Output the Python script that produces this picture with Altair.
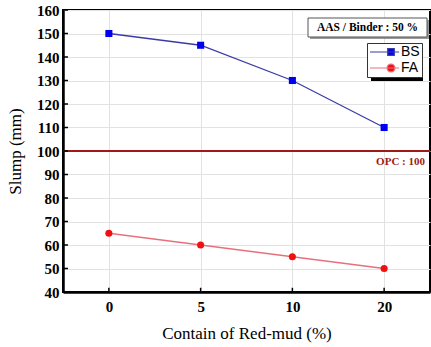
import altair as alt
import pandas as pd

# ---- data ----
contents = ["0", "5", "10", "20"]
bs_slump = [150, 145, 130, 110]
fa_slump = [65, 60, 55, 50]
series_names = ["BS", "FA"]
opc_value = [100]
opc_label = ["OPC : 100"]
note_text = ["AAS / Binder : 50 %"]
y_ticks = [40, 50, 60, 70, 80, 90, 100, 110, 120, 130, 140, 150, 160]

df = pd.DataFrame({
    "content": contents * 2,
    "slump": bs_slump + fa_slump,
    "series": ["BS"] * len(contents) + ["FA"] * len(contents),
})
opc_df = pd.DataFrame({"opc": opc_value, "label": opc_label})
note_df = pd.DataFrame({"t": note_text})
xt_df = pd.DataFrame({"content": contents, "lo": [40] * len(contents), "hi": [41.8] * len(contents)})
yt_df = pd.DataFrame({"tick": y_ticks})

W, H = 367, 282
SERIF = "Liberation Serif"
SANS = "Liberation Sans"

line_colors = ["#3b3ba8", "#e8707c"]
marker_colors = ["#0000f0", "#f01010"]
marker_shapes = ["square", "circle"]
path_bs = "M-3.5,0H1.35M-0.55,-0.55H0.55V0.55H-0.55Z"
path_fa = "M-3.5,0H1.35M0.65,0A0.65,0.65,0,1,1,-0.65,0A0.65,0.65,0,1,1,0.65,0Z"

x_scale = alt.Scale(type="point", padding=0.5, domain=contents)
y_scale = alt.Scale(domain=[40, 160], nice=False, zero=False)
x_axis = alt.Axis(title="Contain of Red-mud (%)", labelAngle=0, labelPadding=7,
                  titlePadding=11, grid=True)
y_axis = alt.Axis(values=y_ticks, title="Slump (mm)", labelPadding=4, titlePadding=12,
                  grid=True, labelOverlap=False)

x_enc = alt.X("content:N", sort=contents, scale=x_scale, axis=x_axis)
y_enc = alt.Y("slump:Q", scale=y_scale, axis=y_axis)

base = alt.Chart(df)

series_layers = []
for name, lc, mc, shp in zip(series_names, line_colors, marker_colors, marker_shapes):
    sub = base.transform_filter(alt.datum.series == name)
    series_layers.append(sub.mark_line(strokeWidth=1.3, color=lc).encode(x=x_enc, y=y_enc))
    series_layers.append(
        sub.mark_point(filled=True, opacity=1, size=50, color=mc, shape=shp).encode(x=x_enc, y=y_enc)
    )

legend_layer = base.mark_point(filled=True, opacity=0).encode(
    x=x_enc, y=y_enc,
    fill=alt.Fill("series:N", scale=alt.Scale(domain=series_names, range=marker_colors),
                  legend=alt.Legend(title=None)),
    stroke=alt.Stroke("series:N", scale=alt.Scale(domain=series_names, range=line_colors),
                      legend=alt.Legend(title=None)),
    shape=alt.Shape("series:N", scale=alt.Scale(domain=series_names, range=[path_bs, path_fa]),
                    legend=alt.Legend(title=None)),
)

opc_rule = alt.Chart(opc_df).mark_rule(color="#a01818", strokeWidth=2).encode(
    y=alt.Y("opc:Q", scale=y_scale, axis=y_axis), x=alt.value(0), x2=alt.value(W)
)
opc_text = alt.Chart(opc_df).mark_text(
    align="right", baseline="top", dy=5, font=SERIF, fontWeight="bold", fontSize=11, color="#a01818"
).encode(y=alt.Y("opc:Q", scale=y_scale, axis=y_axis), x=alt.value(W - 5), text="label:N")

# inward tick marks
x_ticks = alt.Chart(xt_df).mark_rule(color="black", strokeWidth=1.5).encode(
    x=alt.X("content:N", sort=contents, scale=x_scale, axis=x_axis),
    y=alt.Y("lo:Q", scale=y_scale, axis=y_axis), y2="hi:Q"
)
y_tick_marks = alt.Chart(yt_df).mark_rule(color="black", strokeWidth=1.5).encode(
    y=alt.Y("tick:Q", scale=y_scale, axis=y_axis), x=alt.value(0), x2=alt.value(5)
)

# note box
note_shadow = alt.Chart(note_df).mark_rect(color="#9a9a9a").encode(
    x=alt.value(247), x2=alt.value(366), y=alt.value(10), y2=alt.value(29)
)
note_box = alt.Chart(note_df).mark_rect(fill="white", stroke="#555555", strokeWidth=1).encode(
    x=alt.value(245), x2=alt.value(364), y=alt.value(8), y2=alt.value(27)
)
note_txt = alt.Chart(note_df).mark_text(
    font=SERIF, fontWeight="bold", fontSize=11.5, color="black", align="center", baseline="middle"
).encode(x=alt.value(304.5), y=alt.value(17.5), text="t:N")

# legend shadow
legend_shadow = alt.Chart(note_df).mark_rect(color="black").encode(
    x=alt.value(308), x2=alt.value(360), y=alt.value(37), y2=alt.value(71)
)

chart = alt.layer(
    opc_rule, *series_layers, legend_layer, x_ticks, y_tick_marks,
    opc_text, note_shadow, note_box, note_txt, legend_shadow,
).properties(
    width=W, height=H,
    autosize=alt.AutoSizeParams(type="none"),
    padding={"left": 63, "top": 10, "right": 1, "bottom": 55},
).configure_view(
    stroke="black", strokeWidth=2
).configure_axis(
    labelFont=SERIF, labelFontWeight="bold", labelFontSize=15, labelColor="black",
    titleFont=SERIF, titleFontWeight="normal", titleFontSize=17, titleColor="black",
    gridColor="#e2e2e2", gridWidth=1, ticks=False,
    domainColor="black", domainWidth=2.5,
).configure_axisY(
    labelOverlap=False
).configure_legend(
    orient="none", legendX=304, legendY=33,
    padding=2, strokeColor="#333333", fillColor="white",
    symbolSize=144, symbolStrokeWidth=1.2, symbolOpacity=1, symbolOffset=15,
    labelFont=SANS, labelFontSize=14, labelColor="black", labelOffset=3,
    rowPadding=2,
)

chart.save("out.html", embed_options={"renderer": "svg", "actions": False})
